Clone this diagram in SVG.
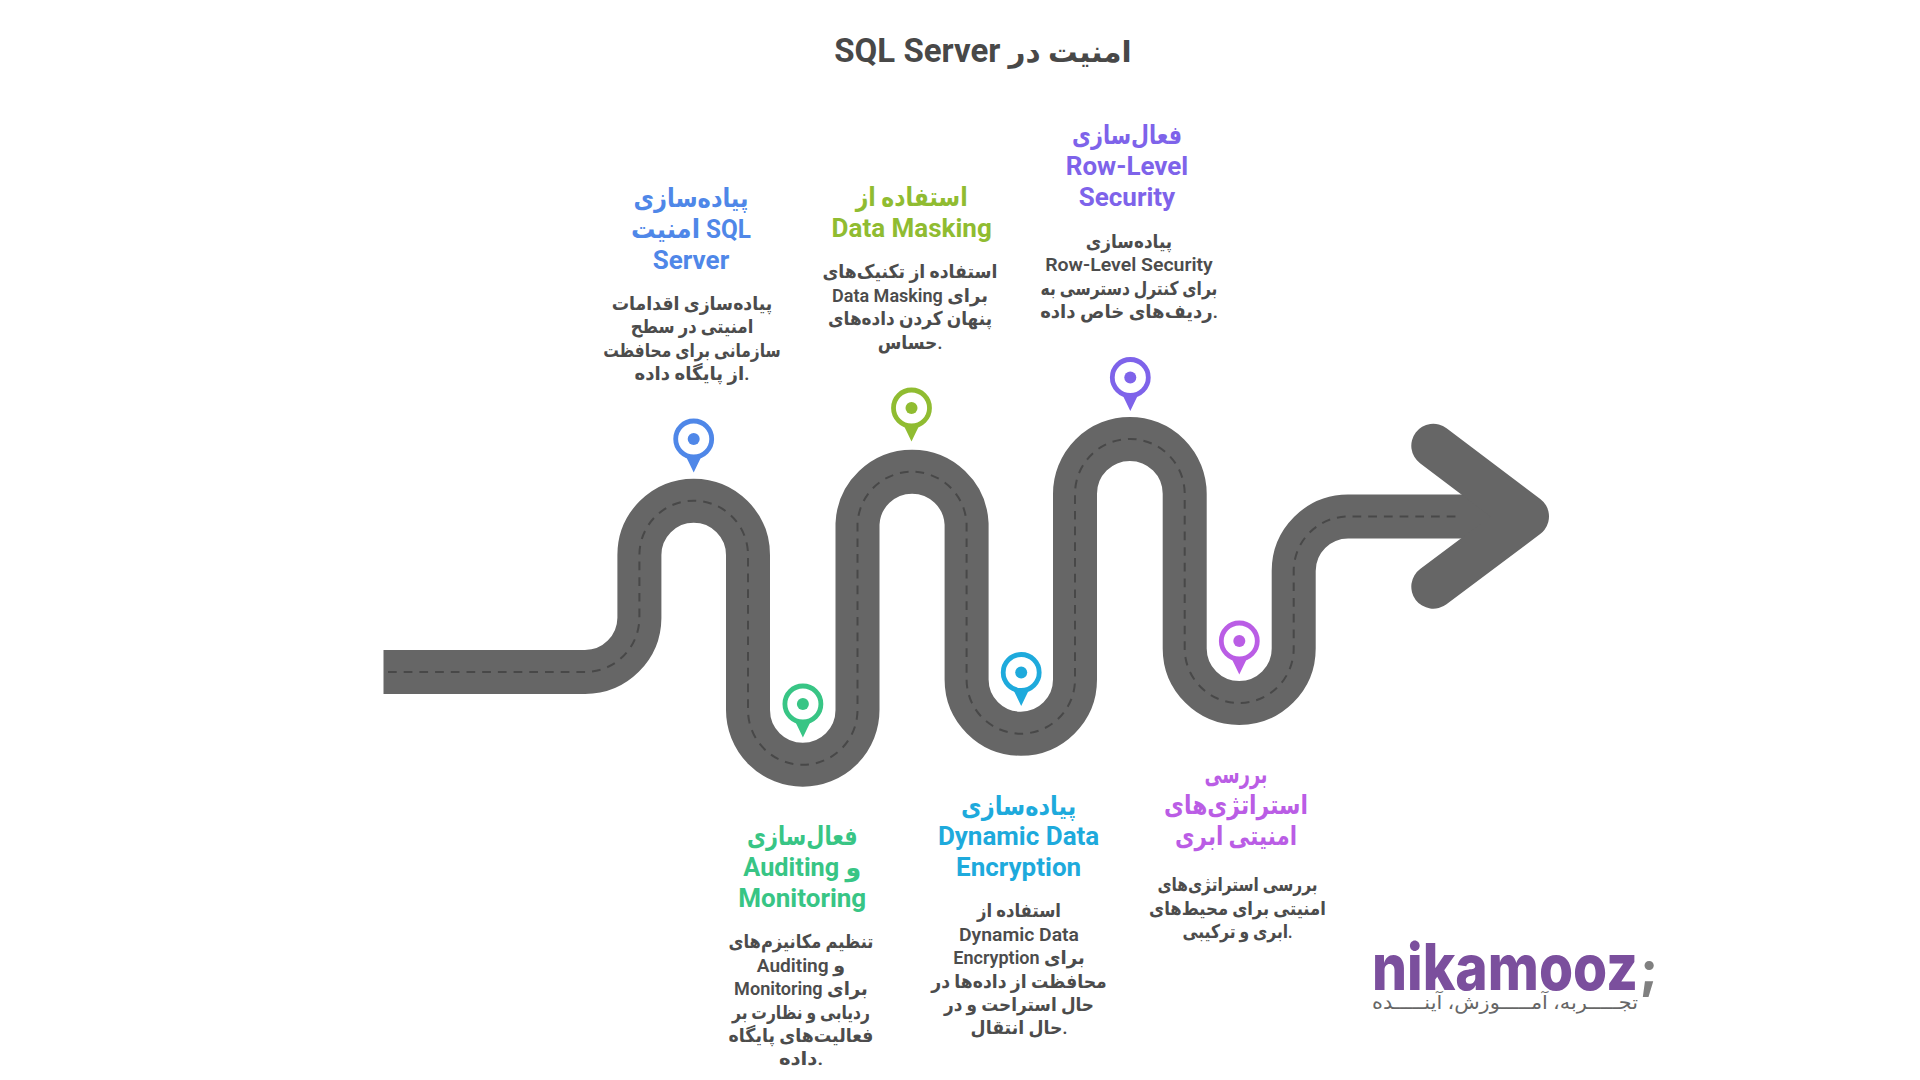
<svg xmlns="http://www.w3.org/2000/svg" xmlns:xlink="http://www.w3.org/1999/xlink" width="1920" height="1080" viewBox="0 0 1920 1080">
<style>
text{font-family:Roboto,"Noto Sans","DejaVu Sans",sans-serif;text-anchor:middle}
.title{font-size:33px;font-weight:700;fill:#484848;direction:rtl}
.h{font-size:26px;font-weight:700}
.b{font-size:19px;font-weight:600;fill:#4c4c4c}
.road{fill:none;stroke:#666;stroke-width:44}
.dash{fill:none;stroke:#484848;stroke-width:2;stroke-dasharray:8.700 7}
.blue{color:#4f87e8;fill:#4f87e8}.lime{color:#90bc31;fill:#90bc31}.purple{color:#7e63ea;fill:#7e63ea}
.teal{color:#38c585;fill:#38c585}.cyan{color:#1eaadc;fill:#1eaadc}.mag{color:#ba5de5;fill:#ba5de5}
</style>
<defs>
<g id="pin">
<circle r="18" fill="#fff" stroke="currentColor" stroke-width="4.800"/>
<circle r="6" fill="currentColor"/>
<path d="M-9.500 14 Q-4.500 24 0 33.500 Q4.500 24 9.500 14 Q0 19 -9.500 14Z" fill="currentColor"/>
</g>
</defs>
<rect width="1920" height="1080" fill="#fff"/>
<g id="connectors">
<path class="road" d="M383.500 672 H585 A54.500 54.500 0 0 0 639.400 618 V555 A54.300 54.300 0 0 1 748 555 V710 A54.700 54.700 0 0 0 857.500 710 V524 A54.600 54.600 0 0 1 966.600 524 V679.500 A54.200 54.200 0 0 0 1075 679.500 V493.800 A54.850 54.850 0 0 1 1184.700 493.800 V648.500 A54.500 54.500 0 0 0 1293.700 648.500 V571 A54.500 54.500 0 0 1 1348 516.500 H1500"/>
<path fill="none" stroke="#666" stroke-width="44" stroke-linecap="round" stroke-linejoin="round" d="M1433.300 445.700 L1527 516.500 L1433.300 586.700"/>
<path class="dash" d="M388 672 H585 A54.500 54.500 0 0 0 639.400 618 V555 A54.300 54.300 0 0 1 748 555 V710 A54.700 54.700 0 0 0 857.500 710 V524 A54.600 54.600 0 0 1 966.600 524 V679.500 A54.200 54.200 0 0 0 1075 679.500 V493.800 A54.850 54.850 0 0 1 1184.700 493.800 V648.500 A54.500 54.500 0 0 0 1293.700 648.500 V571 A54.500 54.500 0 0 1 1348 516.500 H1458"/>
</g>
<text id="title" class="title" x="983" y="62"><tspan font-size="29.500">امنیت در</tspan> SQL Server</text>
<g id="node-blue">
<use xlink:href="#pin" href="#pin" x="693.700" y="439" class="blue"/>
<text class="h blue" x="691" y="206.500" textLength="115" lengthAdjust="spacingAndGlyphs">پیاده‌سازی</text>
<text class="h blue" x="691" y="237.500" textLength="120" lengthAdjust="spacingAndGlyphs">امنیت SQL</text>
<text class="h blue" x="691" y="268.500">Server</text>
<text class="b" x="692" y="310" textLength="160.700" lengthAdjust="spacingAndGlyphs">پیاده‌سازی اقدامات</text>
<text class="b" x="692" y="333" textLength="122.600" lengthAdjust="spacingAndGlyphs">امنیتی در سطح</text>
<text class="b" x="692" y="356.500" textLength="177.700" lengthAdjust="spacingAndGlyphs">سازمانی برای محافظت</text>
<text class="b" x="692" y="380" textLength="114.800" lengthAdjust="spacingAndGlyphs">از پایگاه داده.</text>
</g>
<g id="node-teal">
<use xlink:href="#pin" href="#pin" x="802.900" y="704" class="teal"/>
<text class="h teal" x="802.300" y="845" textLength="110.700" lengthAdjust="spacingAndGlyphs">فعال‌سازی</text>
<text class="h teal" x="802.300" y="876" textLength="118" lengthAdjust="spacingAndGlyphs">Auditing و</text>
<text class="h teal" x="802.300" y="907">Monitoring</text>
<text class="b" x="801" y="948" textLength="144.800" lengthAdjust="spacingAndGlyphs">تنظیم مکانیزم‌های</text>
<text class="b" x="801" y="971.500" textLength="88.400" lengthAdjust="spacingAndGlyphs">Auditing و</text>
<text class="b" x="801" y="995" textLength="133.800" lengthAdjust="spacingAndGlyphs">Monitoring برای</text>
<text class="b" x="801" y="1018.500" textLength="138" lengthAdjust="spacingAndGlyphs">ردیابی و نظارت بر</text>
<text class="b" x="801" y="1042" textLength="144.800" lengthAdjust="spacingAndGlyphs">فعالیت‌های پایگاه</text>
<text class="b" x="801" y="1065" textLength="44.200" lengthAdjust="spacingAndGlyphs">داده.</text>
</g>
<g id="node-lime">
<use xlink:href="#pin" href="#pin" x="911.500" y="408" class="lime"/>
<text class="h lime" x="911.700" y="206" textLength="112" lengthAdjust="spacingAndGlyphs">استفاده از</text>
<text class="h lime" x="911.700" y="237">Data Masking</text>
<text class="b" x="910" y="278" textLength="175" lengthAdjust="spacingAndGlyphs">استفاده از تکنیک‌های</text>
<text class="b" x="910" y="301.500" textLength="156" lengthAdjust="spacingAndGlyphs">Data Masking برای</text>
<text class="b" x="910" y="325" textLength="164" lengthAdjust="spacingAndGlyphs">پنهان کردن داده‌های</text>
<text class="b" x="910" y="348.500" textLength="64.700" lengthAdjust="spacingAndGlyphs">حساس.</text>
</g>
<g id="node-cyan">
<use xlink:href="#pin" href="#pin" x="1021.200" y="672.500" class="cyan"/>
<text class="h cyan" x="1018.600" y="815" textLength="115" lengthAdjust="spacingAndGlyphs">پیاده‌سازی</text>
<text class="h cyan" x="1018.600" y="845">Dynamic Data</text>
<text class="h cyan" x="1018.600" y="876">Encryption</text>
<text class="b" x="1019" y="917" textLength="84" lengthAdjust="spacingAndGlyphs">استفاده از</text>
<text class="b" x="1019" y="940.500" textLength="120" lengthAdjust="spacingAndGlyphs">Dynamic Data</text>
<text class="b" x="1019" y="964" textLength="131.300" lengthAdjust="spacingAndGlyphs">Encryption برای</text>
<text class="b" x="1019" y="987.500" textLength="175.500" lengthAdjust="spacingAndGlyphs">محافظت از داده‌ها در</text>
<text class="b" x="1019" y="1011" textLength="150" lengthAdjust="spacingAndGlyphs">حال استراحت و در</text>
<text class="b" x="1019" y="1034" textLength="96.800" lengthAdjust="spacingAndGlyphs">حال انتقال.</text>
</g>
<g id="node-purple">
<use xlink:href="#pin" href="#pin" x="1130.300" y="377.500" class="purple"/>
<text class="h purple" x="1127" y="143.500" textLength="110" lengthAdjust="spacingAndGlyphs">فعال‌سازی</text>
<text class="h purple" x="1127" y="174.500">Row-Level</text>
<text class="h purple" x="1127" y="205.500">Security</text>
<text class="b" x="1129" y="248" textLength="86.300" lengthAdjust="spacingAndGlyphs">پیاده‌سازی</text>
<text class="b" x="1129" y="271" textLength="167.600" lengthAdjust="spacingAndGlyphs">Row-Level Security</text>
<text class="b" x="1129" y="294.500" textLength="176.800" lengthAdjust="spacingAndGlyphs">برای کنترل دسترسی به</text>
<text class="b" x="1129" y="318" textLength="177.700" lengthAdjust="spacingAndGlyphs">ردیف‌های خاص داده.</text>
</g>
<g id="node-magenta">
<use xlink:href="#pin" href="#pin" x="1239.300" y="641" class="mag"/>
<text class="h mag" x="1236" y="783" textLength="63" lengthAdjust="spacingAndGlyphs">بررسی</text>
<text class="h mag" x="1236" y="814" textLength="144" lengthAdjust="spacingAndGlyphs">استراتژی‌های</text>
<text class="h mag" x="1236" y="845" textLength="122" lengthAdjust="spacingAndGlyphs">امنیتی ابری</text>
<text class="b" x="1237.500" y="891" textLength="160" lengthAdjust="spacingAndGlyphs">بررسی استراتژی‌های</text>
<text class="b" x="1237.500" y="914.500" textLength="176.800" lengthAdjust="spacingAndGlyphs">امنیتی برای محیط‌های</text>
<text class="b" x="1237.500" y="938" textLength="110" lengthAdjust="spacingAndGlyphs">ابری و ترکیبی.</text>
</g>
<g id="logo">
<text x="1505" y="989.500" style="font-family:Inter,sans-serif;font-size:64px;font-weight:800;fill:#7b4f9d" textLength="266" lengthAdjust="spacingAndGlyphs">nikamooz</text>
<text x="1649" y="987" style="font-family:Inter,sans-serif;font-size:50px;font-weight:800;fill:#808080">;</text>
<text x="1505" y="1008.500" style="font-size:19px;font-weight:400;fill:#666;direction:rtl" textLength="266" lengthAdjust="spacingAndGlyphs">تجـــــربه، آمـــــوزش، آینـــــده</text>
</g>
</svg>
